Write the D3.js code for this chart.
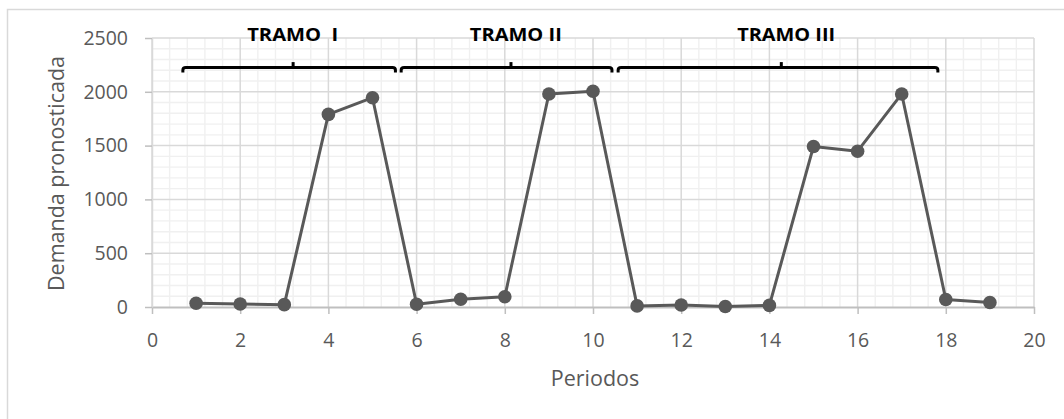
<!DOCTYPE html>
<html>
<head>
<meta charset="utf-8">
<script src="https://cdn.jsdelivr.net/npm/d3@7"></script>
<style>
  html, body { margin: 0; padding: 0; background: #ffffff; }
  svg { display: block; }
</style>
</head>
<body>
<svg id="chart" width="1064" height="419"></svg>
<script>
// Forecast demand per period
const periodos = [1, 2, 3, 4, 5, 6, 7, 8, 9, 10, 11, 12, 13, 14, 15, 16, 17, 18, 19];
const demanda  = [35, 28, 22, 1790, 1945, 25, 72, 95, 1980, 2005, 10, 18, 5, 15, 1492, 1448, 1980, 70, 42];

// Axis ticks
const xTicks = [0, 2, 4, 6, 8, 10, 12, 14, 16, 18, 20];
const yTicks = [0, 500, 1000, 1500, 2000, 2500];

// Segments ("tramos") marked with braces above the series
const tramoLabels = ["TRAMO  I", "TRAMO II", "TRAMO III"];
const tramoStart  = [0.70, 5.65, 10.57];
const tramoEnd    = [5.52, 10.43, 17.82];
const tramoMid    = [3.20, 8.14, 14.27];
const tramoLabelX = [3.19, 8.25, 14.38];
const tramoLabelW = [91, 92, 98];
const tramoLevel  = 2225;
const tramoLabelLevel = 2472;

const svg = d3.select("#chart");
const W = 1064, H = 419;
const plot = { left: 152, right: 1034, top: 38, bottom: 307 };

const x = d3.scaleLinear().domain([0, 20]).range([plot.left, plot.right]);
const y = d3.scaleLinear().domain([0, 2500]).range([plot.bottom, plot.top]);

const font = "'Open Sans', 'Liberation Sans', sans-serif";
const textColor = "#595959";

// Chart area border
svg.append("rect")
  .attr("x", 7.5).attr("y", 9.5)
  .attr("width", W + 20).attr("height", H + 20)
  .attr("fill", "#ffffff")
  .attr("stroke", "#d9d9d9")
  .attr("stroke-width", 1.5);

// Minor gridlines
const g = svg.append("g");
const minorX = d3.range(0, 20.0001, 0.4).filter(v => Math.abs(v / 2 - Math.round(v / 2)) > 1e-6);
const minorY = d3.range(0, 2500.001, 100).filter(v => v % 500 !== 0);
g.selectAll(".mx").data(minorX).join("line")
  .attr("x1", d => x(d)).attr("x2", d => x(d))
  .attr("y1", plot.top).attr("y2", plot.bottom)
  .attr("stroke", "#f0f0f0").attr("stroke-width", 1.4);
g.selectAll(".my").data(minorY).join("line")
  .attr("x1", plot.left).attr("x2", plot.right)
  .attr("y1", d => y(d)).attr("y2", d => y(d))
  .attr("stroke", "#f0f0f0").attr("stroke-width", 1.4);

// Major gridlines
g.selectAll(".gx").data(xTicks).join("line")
  .attr("x1", d => x(d)).attr("x2", d => x(d))
  .attr("y1", plot.top).attr("y2", plot.bottom)
  .attr("stroke", "#d9d9d9").attr("stroke-width", 1.5);
g.selectAll(".gy").data(yTicks.filter(v => v > 0)).join("line")
  .attr("x1", plot.left).attr("x2", plot.right)
  .attr("y1", d => y(d)).attr("y2", d => y(d))
  .attr("stroke", "#d9d9d9").attr("stroke-width", 1.5);

// X axis
const xAxis = svg.append("g")
  .attr("transform", `translate(0,${plot.bottom})`)
  .call(d3.axisBottom(x).tickValues(xTicks).tickFormat(d3.format("d"))
    .tickSize(7).tickPadding(19).tickSizeOuter(0));
xAxis.select(".domain").attr("stroke", "#bfbfbf").attr("stroke-width", 2);
xAxis.selectAll(".tick line").attr("stroke", "#bfbfbf").attr("stroke-width", 1.5);
xAxis.selectAll(".tick text")
  .attr("fill", textColor).attr("font-family", font).attr("font-size", 19.5);

// Y axis
const yAxis = svg.append("g")
  .attr("transform", `translate(${plot.left},0)`)
  .call(d3.axisLeft(y).tickValues(yTicks).tickFormat(d3.format("d"))
    .tickSize(7).tickPadding(17).tickSizeOuter(0));
yAxis.select(".domain").attr("stroke", "#d9d9d9").attr("stroke-width", 1.5);
yAxis.selectAll(".tick line").attr("stroke", "#bfbfbf").attr("stroke-width", 1.5);
yAxis.selectAll(".tick text")
  .attr("fill", textColor).attr("font-family", font).attr("font-size", 19.5);

// Axis titles
svg.append("text")
  .attr("x", (plot.left + plot.right) / 2 + 2)
  .attr("y", 386)
  .attr("text-anchor", "middle")
  .attr("fill", textColor).attr("font-family", font).attr("font-size", 21.5)
  .text("Periodos");

svg.append("text")
  .attr("transform", `translate(64,${(plot.top + plot.bottom) / 2 + 1}) rotate(-90)`)
  .attr("text-anchor", "middle")
  .attr("fill", textColor).attr("font-family", font).attr("font-size", 21.5)
  .text("Demanda pronosticada");

// Series line and markers
const pts = periodos.map((p, i) => [p, demanda[i]]);
svg.append("path")
  .datum(pts)
  .attr("fill", "none")
  .attr("stroke", "#595959")
  .attr("stroke-width", 3)
  .attr("stroke-linejoin", "round")
  .attr("d", d3.line().x(d => x(d[0])).y(d => y(d[1])));

svg.selectAll(".pt").data(pts).join("circle")
  .attr("cx", d => x(d[0])).attr("cy", d => y(d[1]))
  .attr("r", 6.8)
  .attr("fill", "#595959");

// Braces marking each segment
const braces = svg.append("g");
tramoLabels.forEach((label, i) => {
  const x0 = x(tramoStart[i]), x1 = x(tramoEnd[i]), xm = x(tramoMid[i]);
  const yy = y(tramoLevel);
  braces.append("path")
    .attr("d", `M${x0},${yy + 5} L${x0},${yy + 2.5} Q${x0},${yy} ${x0 + 3},${yy} L${x1 - 3},${yy} Q${x1},${yy} ${x1},${yy + 2.5} L${x1},${yy + 5}`)
    .attr("fill", "none").attr("stroke", "#000000").attr("stroke-width", 3);
  braces.append("line")
    .attr("x1", xm).attr("x2", xm)
    .attr("y1", yy).attr("y2", yy - 5.5)
    .attr("stroke", "#000000").attr("stroke-width", 3);
  braces.append("text")
    .attr("x", x(tramoLabelX[i]))
    .attr("y", y(tramoLabelLevel))
    .attr("text-anchor", "middle")
    .attr("font-family", font).attr("font-weight", "bold").attr("font-size", 18.5)
    .attr("fill", "#000000")
    .attr("textLength", tramoLabelW[i])
    .attr("lengthAdjust", "spacingAndGlyphs")
    .attr("xml:space", "preserve")
    .style("white-space", "pre")
    .text(label);
});
</script>
</body>
</html>
